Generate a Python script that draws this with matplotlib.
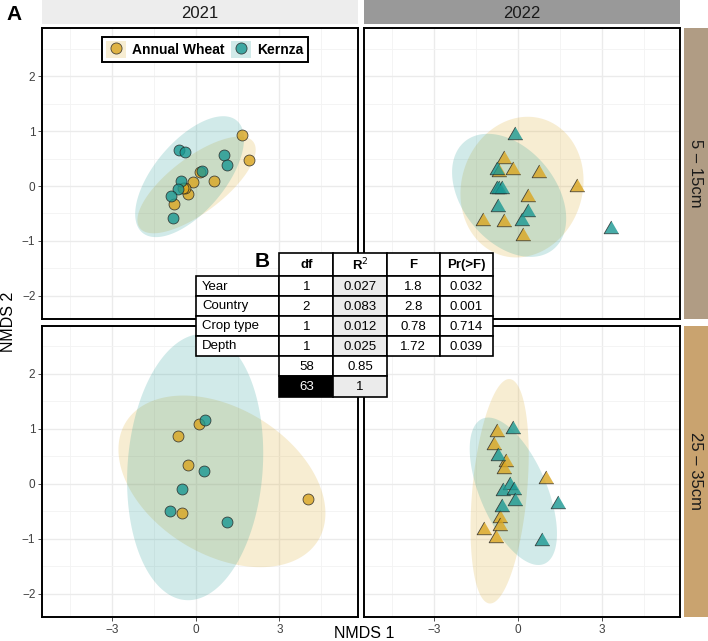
import numpy as np
import matplotlib.pyplot as plt
from matplotlib.patches import Rectangle
from matplotlib.lines import Line2D
from matplotlib.legend_handler import HandlerTuple

plt.rcParams['font.family'] = ['Liberation Sans', 'DejaVu Sans']

years = ['2021', '2022']
depths = ['5 – 15cm', '25 – 35cm']
crops = ['Annual Wheat', 'Kernza']

# NMDS scores
# 2021, 5-15cm
wheat_21_top_x = [1.66, 1.91, 0.64, -0.08, 0.16, -0.29, -0.77, -0.38, -0.47]
wheat_21_top_y = [0.92, 0.48, 0.09, 0.07, 0.26, -0.14, -0.32, -0.04, -0.03]
kernza_21_top_x = [-0.59, -0.38, 1.00, 1.12, 0.24, -0.52, -0.62, -0.89, -0.82]
kernza_21_top_y = [0.65, 0.61, 0.57, 0.38, 0.27, 0.10, -0.05, -0.19, -0.58]
# 2022, 5-15cm
wheat_22_top_x = [-0.48, -0.17, -0.66, 0.76, 2.10, 0.37, -1.25, -0.50, 0.19]
wheat_22_top_y = [0.49, 0.30, 0.26, 0.24, -0.01, -0.20, -0.64, -0.66, -0.91]
kernza_22_top_x = [-0.11, -0.74, -0.66, -0.56, -0.76, -0.72, 0.35, 0.15, 3.33]
kernza_22_top_y = [0.92, 0.29, -0.05, -0.06, -0.06, -0.39, -0.47, -0.64, -0.79]
# 2021, 25-35cm
wheat_21_bot_x = [0.10, -0.64, -0.26, 4.03, -0.48]
wheat_21_bot_y = [1.09, 0.86, 0.33, -0.28, -0.54]
kernza_21_bot_x = [0.35, 0.28, -0.48, -0.91, 1.13]
kernza_21_bot_y = [1.16, 0.22, -0.09, -0.50, -0.70]
# 2022, 25-35cm
wheat_22_bot_x = [-0.76, -0.84, -0.41, -0.50, 1.02, -0.65, -0.62, -1.22, -0.79]
wheat_22_bot_y = [0.93, 0.71, 0.39, 0.27, 0.09, -0.62, -0.78, -0.85, -0.99]
kernza_22_bot_x = [-0.18, -0.70, -0.29, -0.53, -0.13, -0.11, -0.56, 1.44, 0.88]
kernza_22_bot_y = [0.99, 0.51, -0.03, -0.13, -0.12, -0.32, -0.42, -0.38, -1.04]

# ellipses: centre x, centre y, half x-extent, half y-extent, y offset at x-max
ell_21_top_wheat = [0.03, 0.02, 2.12, 0.88, 0.64]
ell_21_top_kernza = [-0.22, 0.17, 1.95, 1.10, 0.68]
ell_22_top_wheat = [0.15, -0.02, 2.20, 1.28, 0.12]
ell_22_top_kernza = [-0.31, -0.17, 2.04, 1.12, -0.42]
ell_21_bot_wheat = [0.94, 0.04, 3.71, 1.56, -0.58]
ell_21_bot_kernza = [-0.02, 0.30, 2.44, 2.42, 0.25]
ell_22_bot_wheat = [-0.65, -0.14, 1.04, 2.04, 0.67]
ell_22_bot_kernza = [-0.16, -0.14, 1.56, 1.34, -0.77]

# PERMANOVA table
terms = ['Year', 'Country', 'Crop type', 'Depth']
term_df = ['1', '2', '1', '1']
term_r2 = ['0.027', '0.083', '0.012', '0.025']
term_f = ['1.8', '2.8', '0.78', '1.72']
term_p = ['0.032', '0.001', '0.714', '0.039']
resid_df, resid_r2 = '58', '0.85'
total_df, total_r2 = '63', '1'
col_heads = ['df', 'R$^2$', 'F', 'Pr(>F)']

wheat_col = '#DAA520'
kernza_col = '#1A9892'

panels = {
    (0, 0): (wheat_21_top_x, wheat_21_top_y, kernza_21_top_x, kernza_21_top_y, ell_21_top_wheat, ell_21_top_kernza),
    (0, 1): (wheat_22_top_x, wheat_22_top_y, kernza_22_top_x, kernza_22_top_y, ell_22_top_wheat, ell_22_top_kernza),
    (1, 0): (wheat_21_bot_x, wheat_21_bot_y, kernza_21_bot_x, kernza_21_bot_y, ell_21_bot_wheat, ell_21_bot_kernza),
    (1, 1): (wheat_22_bot_x, wheat_22_bot_y, kernza_22_bot_x, kernza_22_bot_y, ell_22_bot_wheat, ell_22_bot_kernza),
}

W, H = 708, 641
fig = plt.figure(figsize=(W / 100, H / 100), dpi=100)


def px_axes(x0, y0, x1, y1, **kw):
    return fig.add_axes([x0 / W, 1 - y1 / H, (x1 - x0) / W, (y1 - y0) / H], **kw)


def ellipse_xy(p):
    cx, cy, hx, hy, yo = p
    m = np.array([[hx ** 2, yo * hx], [yo * hx, hy ** 2]])
    L = np.linalg.cholesky(m)
    t = np.linspace(0, 2 * np.pi, 200)
    pts = L @ np.vstack([np.cos(t), np.sin(t)])
    return cx + pts[0], cy + pts[1]


tri = [(0, 1), (-0.866, -0.5), (0.866, -0.5)]
col_px = [(42.3, 357.5), (364, 680)]
row_px = [(28.3, 319), (325.7, 616.7)]

axes = {}
for (r, c), (wx, wy, kx, ky, ew, ek) in panels.items():
    x0, x1 = col_px[c]
    y0, y1 = row_px[r]
    ax = px_axes(x0, y0, x1, y1)
    axes[(r, c)] = ax
    ax.set_xlim(-5.5, 5.8)
    ax.set_ylim(-2.42, 2.87)
    ax.set_xticks([-3, 0, 3])
    ax.set_xticks([-4.5, -1.5, 1.5, 4.5], minor=True)
    ax.set_yticks([-2, -1, 0, 1, 2])
    ax.set_yticks([-1.5, -0.5, 0.5, 1.5, 2.5], minor=True)
    ax.grid(which='major', color='#EBEBEB', lw=1.0, zorder=0)
    ax.grid(which='minor', color='#F3F3F3', lw=0.6, zorder=0)
    ax.set_axisbelow(True)
    ax.tick_params(which='minor', length=0)
    ax.tick_params(which='major', length=3, width=0.6, color='#333333',
                   labelsize=8.5, labelcolor='#404040', pad=2)
    ax.set_xticklabels(['\u22123', '0', '3'])
    ax.set_yticklabels(['\u22122', '\u22121', '0', '1', '2'])
    if r == 0:
        ax.tick_params(axis='x', length=0, labelbottom=False)
    if c == 1:
        ax.tick_params(axis='y', length=0, labelleft=False)
    for s in ax.spines.values():
        s.set_linewidth(1.4)
        s.set_color('black')

    for p, col in ((ew, wheat_col), (ek, kernza_col)):
        ex, ey = ellipse_xy(p)
        ax.fill(ex, ey, color=col, alpha=0.2, lw=0, zorder=1)

    mk = 'o' if c == 0 else tri
    sz = 62 if c == 0 else 150
    ax.scatter(wx, wy, s=sz, marker=mk, color=wheat_col, alpha=0.8,
               edgecolors='#222222', linewidths=0.6, zorder=3)
    ax.scatter(kx, ky, s=sz, marker=mk, color=kernza_col, alpha=0.8,
               edgecolors='#222222', linewidths=0.6, zorder=3)

# facet strips
strip_top_cols = ['#EDEDED', '#999999']
for c, yr in enumerate(years):
    x0, x1 = col_px[c]
    sa = px_axes(x0, 0, x1, 23.7)
    sa.set_facecolor(strip_top_cols[c])
    sa.set_xticks([])
    sa.set_yticks([])
    for s in sa.spines.values():
        s.set_visible(False)
    sa.text(0.5, 0.45, yr, ha='center', va='center', fontsize=12, color='#1A1A1A',
            transform=sa.transAxes)

strip_right_cols = ['#B09C84', '#C9A36F']
for r, d in enumerate(depths):
    y0, y1 = row_px[r]
    sa = px_axes(683.5, y0, 708, y1)
    sa.set_facecolor(strip_right_cols[r])
    sa.set_xticks([])
    sa.set_yticks([])
    for s in sa.spines.values():
        s.set_visible(False)
    sa.text(0.5, 0.5, d, ha='center', va='center', rotation=-90, fontsize=12,
            color='#1A1A1A', transform=sa.transAxes)

# legend
handles = []
for col in (wheat_col, kernza_col):
    bg = Rectangle((0, 0), 1, 1, facecolor=col, alpha=0.2, edgecolor='none')
    mk = Line2D([], [], marker='o', ls='none', markersize=8, markerfacecolor=col,
                alpha=0.8, markeredgecolor='#222222', markeredgewidth=0.6)
    handles.append((bg, mk))
leg = axes[(0, 0)].legend(handles, crops, ncol=2, loc='upper left',
                          bbox_to_anchor=(0.188, 0.969), borderaxespad=0,
                          handler_map={tuple: HandlerTuple(ndivide=1, pad=0)},
                          prop={'weight': 'bold', 'size': 10},
                          handlelength=1.45, handleheight=1.45, handletextpad=0.45,
                          columnspacing=0.45, borderpad=0.3, fancybox=False,
                          framealpha=1, edgecolor='black')
leg.get_frame().set_linewidth(1.4)

# axis titles and panel letters
fig.text(364 / W, 1 - 633 / H, 'NMDS 1', ha='center', va='center', fontsize=11.5)
fig.text(9 / W, 1 - 322 / H, 'NMDS 2', ha='center', va='center', rotation=90, fontsize=11.5)
fig.text(14 / W, 1 - 14 / H, 'A', ha='center', va='center', fontsize=15, weight='bold')
fig.text(262 / W, 1 - 261 / H, 'B', ha='center', va='center', fontsize=15, weight='bold')

# table overlay in pixel coordinates
tab = fig.add_axes([0, 0, 1, 1], zorder=10)
tab.set_xlim(0, W)
tab.set_ylim(H, 0)
tab.axis('off')
tab.patch.set_alpha(0)
xe = [196, 279.3, 333.3, 386.7, 440, 492.7]
ye = [253.3, 276, 296, 316, 336, 356, 376, 396.5]
tfs = 9.5


def cell(ci, ri, txt, fc='white', tc='black', bold=False, ha='center'):
    x0, x1 = xe[ci], xe[ci + 1]
    y0, y1 = ye[ri], ye[ri + 1]
    tab.add_patch(Rectangle((x0, y0), x1 - x0, y1 - y0, facecolor=fc,
                            edgecolor='black', lw=1.2))
    tx = (x0 + x1) / 2 if ha == 'center' else x0 + 6
    tab.text(tx, (y0 + y1) / 2 + 0.5, txt, ha=ha, va='center', fontsize=tfs,
             color=tc, weight='bold' if bold else 'normal')


for j, h in enumerate(col_heads):
    cell(j + 1, 0, h, bold=True)
for i, t in enumerate(terms):
    cell(0, i + 1, t, ha='left')
    cell(1, i + 1, term_df[i])
    cell(2, i + 1, term_r2[i], fc='#EBEBEB')
    cell(3, i + 1, term_f[i])
    cell(4, i + 1, term_p[i])
cell(1, 5, resid_df)
cell(2, 5, resid_r2)
cell(1, 6, total_df, fc='black', tc='white')
cell(2, 6, total_r2, fc='#EBEBEB')

fig.savefig('out.png', dpi=100)
